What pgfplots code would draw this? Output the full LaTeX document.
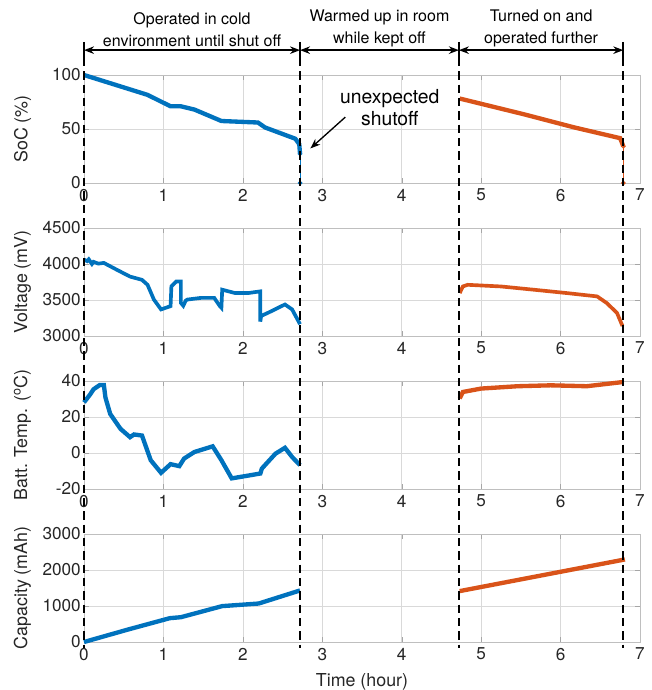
\documentclass[border=0pt]{standalone}
\usepackage{fontspec}
\setmainfont{TeX Gyre Heros}
\usepackage{pgfplots}
\pgfplotsset{compat=1.18}
\usetikzlibrary{arrows.meta}
\definecolor{mblue}{rgb}{0,0.447,0.741}
\definecolor{morange}{rgb}{0.85,0.325,0.098}
\pgfplotsset{
 panel/.style={
  scale only axis, width=333.6pt, height=64.8pt,
  xmin=0, xmax=7, xtick={0,...,7},
  axis line style={black!25},
  tick style={black!35}, tick align=inside, major tick length=3pt,
  grid=major, grid style={black!15},
  tick label style={font=\fontsize{10.3}{11}\selectfont, color=black!85},
  yticklabel style={xshift=1.6pt},
  /pgf/number format/assume math mode=true,
  /pgf/number format/1000 sep={},
  label style={font=\fontsize{10.7}{11}\selectfont, color=black!85},
  ylabel style={at={(axis description cs:-0.1106,0.5)}, anchor=center},
  clip=false,
 }
}
\begin{document}
\begin{tikzpicture}
\useasboundingbox (-50.4pt,-304.2pt) rectangle (340.2pt,109.8pt);
% ---------------- SoC ----------------
\begin{axis}[panel, name=a1, at={(0,0)}, ymin=0, ymax=100, ytick={0,50,100}, ylabel={SoC (\%)}]
\addplot[mblue, line width=2.6pt] coordinates {
(0,100) (0.8,81.6) (1.09,71) (1.22,71) (1.39,68) (1.73,57.4) (2.19,56) (2.28,51.4) (2.66,41) (2.71,36) (2.72,27)};
\addplot[mblue, line width=0.6pt, mark=o, mark size=1.1pt] coordinates {(2.72,27) (2.72,0)};
\addplot[morange, line width=2.6pt] coordinates {
(4.73,78.2) (5.54,63.6) (6.17,51.5) (6.75,41.5) (6.79,34)};
\addplot[morange, line width=0.6pt, mark=o, mark size=1.1pt] coordinates {(6.79,34) (6.79,0)};
\node[align=center, font=\fontsize{11.6}{13.2}\selectfont] at (axis cs:3.85,69.4) {unexpected\\shutoff};
\draw[-{Stealth[length=6pt,width=4.5pt]}, line width=0.8pt] (axis cs:3.29,61) -- (axis cs:2.85,32);
% header arrows
\draw[{Stealth[length=6pt,width=4.5pt]}-{Stealth[length=6pt,width=4.5pt]}, line width=1pt] (axis cs:0,123) -- (axis cs:2.72,123);
\draw[{Stealth[length=6pt,width=4.5pt]}-{Stealth[length=6pt,width=4.5pt]}, line width=1pt] (axis cs:2.72,123) -- (axis cs:4.72,123);
\draw[{Stealth[length=6pt,width=4.5pt]}-{Stealth[length=6pt,width=4.5pt]}, line width=1pt] (axis cs:4.72,123) -- (axis cs:6.79,123);
\draw[line width=1pt] (axis cs:0,130.6) -- (axis cs:0,115.7);
\draw[line width=1pt] (axis cs:2.72,130.6) -- (axis cs:2.72,115.7);
\draw[line width=1pt] (axis cs:4.72,130.6) -- (axis cs:4.72,115.7);
\draw[line width=1pt] (axis cs:6.79,130.6) -- (axis cs:6.79,115.7);
\node[anchor=south, inner sep=0pt, align=center, font=\fontsize{9.6}{13.2}\selectfont] at (axis cs:1.36,125.8) {Operated in cold\\environment until shut off};
\node[anchor=south, inner sep=0pt, align=center, font=\fontsize{9.6}{13.2}\selectfont] at (axis cs:3.72,125.8) {Warmed up in room\\while kept off};
\node[anchor=south, inner sep=0pt, align=center, font=\fontsize{9.6}{13.2}\selectfont] at (axis cs:5.755,125.8) {Turned on and\\operated further};
\coordinate (t0) at (axis cs:0,115.7);
\coordinate (t1) at (axis cs:2.72,115.7);
\coordinate (t2) at (axis cs:4.72,115.7);
\coordinate (t3) at (axis cs:6.79,115.7);
\end{axis}
% ---------------- Voltage ----------------
\begin{axis}[panel, name=a2, at={(0,-91.8pt)}, ymin=3000, ymax=4500, ytick={3000,3500,4000,4500}, ylabel={Voltage (mV)}]
\addplot[mblue, line width=2.2pt] coordinates {
(0,4060) (0.04,4040) (0.06,4065) (0.1,4000) (0.12,4030) (0.18,4005) (0.25,4015) (0.42,3916) (0.58,3825) (0.73,3780) (0.8,3711) (0.88,3506) (0.97,3369) (1.09,3415)
(1.1,3688) (1.16,3757) (1.22,3757) (1.22,3460) (1.25,3420) (1.28,3490) (1.3,3506) (1.47,3529) (1.64,3529) (1.71,3415) (1.73,3392)
(1.74,3643) (1.9,3597) (2.07,3597) (2.22,3620) (2.22,3200) (2.23,3278) (2.32,3324) (2.53,3438) (2.62,3369) (2.72,3164)};
\addplot[morange, line width=2.2pt] coordinates {
(4.73,3596) (4.77,3688) (4.83,3711) (5.25,3688) (5.67,3642) (6.08,3596) (6.46,3550) (6.58,3459) (6.71,3321) (6.78,3138)};
\end{axis}
% ---------------- Temperature ----------------
\begin{axis}[panel, name=a3, at={(0,-183.6pt)}, ymin=-20, ymax=40, ytick={-20,0,20,40}, ylabel={Batt. Temp. ($^{\mathrm{o}}$C)}]
\addplot[mblue, line width=2.6pt] coordinates {
(0,28.1) (0.08,32.7) (0.12,35.4) (0.2,37.8) (0.25,37.8) (0.27,30.8) (0.33,21.7) (0.46,13.4) (0.58,8.8) (0.63,10.3)
(0.73,9.7) (0.84,-4) (0.97,-11) (1.09,-6.2) (1.2,-7.3) (1.26,-3.1) (1.39,0.55) (1.62,3.7) (1.73,-4) (1.86,-14.1)
(1.98,-13.2) (2.22,-11.4) (2.24,-8.6) (2.41,-0.4) (2.53,2.9) (2.62,-2.2) (2.72,-6.8)};
\addplot[morange, line width=2.6pt] coordinates {
(4.73,30.3) (4.77,33.9) (5.0,35.8) (5.46,37.1) (5.875,37.6) (6.33,37.1) (6.78,39.4)};
\end{axis}
% ---------------- Capacity ----------------
\begin{axis}[panel, name=a4, at={(0,-275.4pt)}, ymin=0, ymax=3000, ytick={0,1000,2000,3000}, ylabel={Capacity (mAh)}, xlabel={Time (hour)},
 xlabel style={yshift=-1pt}]
\addplot[mblue, line width=2.6pt] coordinates {
(0,0) (0.55,344) (1.08,662) (1.22,689) (1.74,997) (2.2,1069) (2.72,1432)};
\addplot[morange, line width=2.6pt] coordinates {
(4.73,1414) (6.81,2293)};
\coordinate (b0) at (axis cs:0,-170);
\coordinate (b1) at (axis cs:2.72,-170);
\coordinate (b2) at (axis cs:4.72,-170);
\coordinate (b3) at (axis cs:6.79,-170);
\end{axis}
\draw[line width=1.1pt, dash pattern=on 5pt off 3pt] (t0) -- (b0);
\draw[line width=1.1pt, dash pattern=on 5pt off 3pt] (t1) -- (b1);
\draw[line width=1.1pt, dash pattern=on 5pt off 3pt] (t2) -- (b2);
\draw[line width=1.1pt, dash pattern=on 5pt off 3pt] (t3) -- (b3);
\end{tikzpicture}
\end{document}
